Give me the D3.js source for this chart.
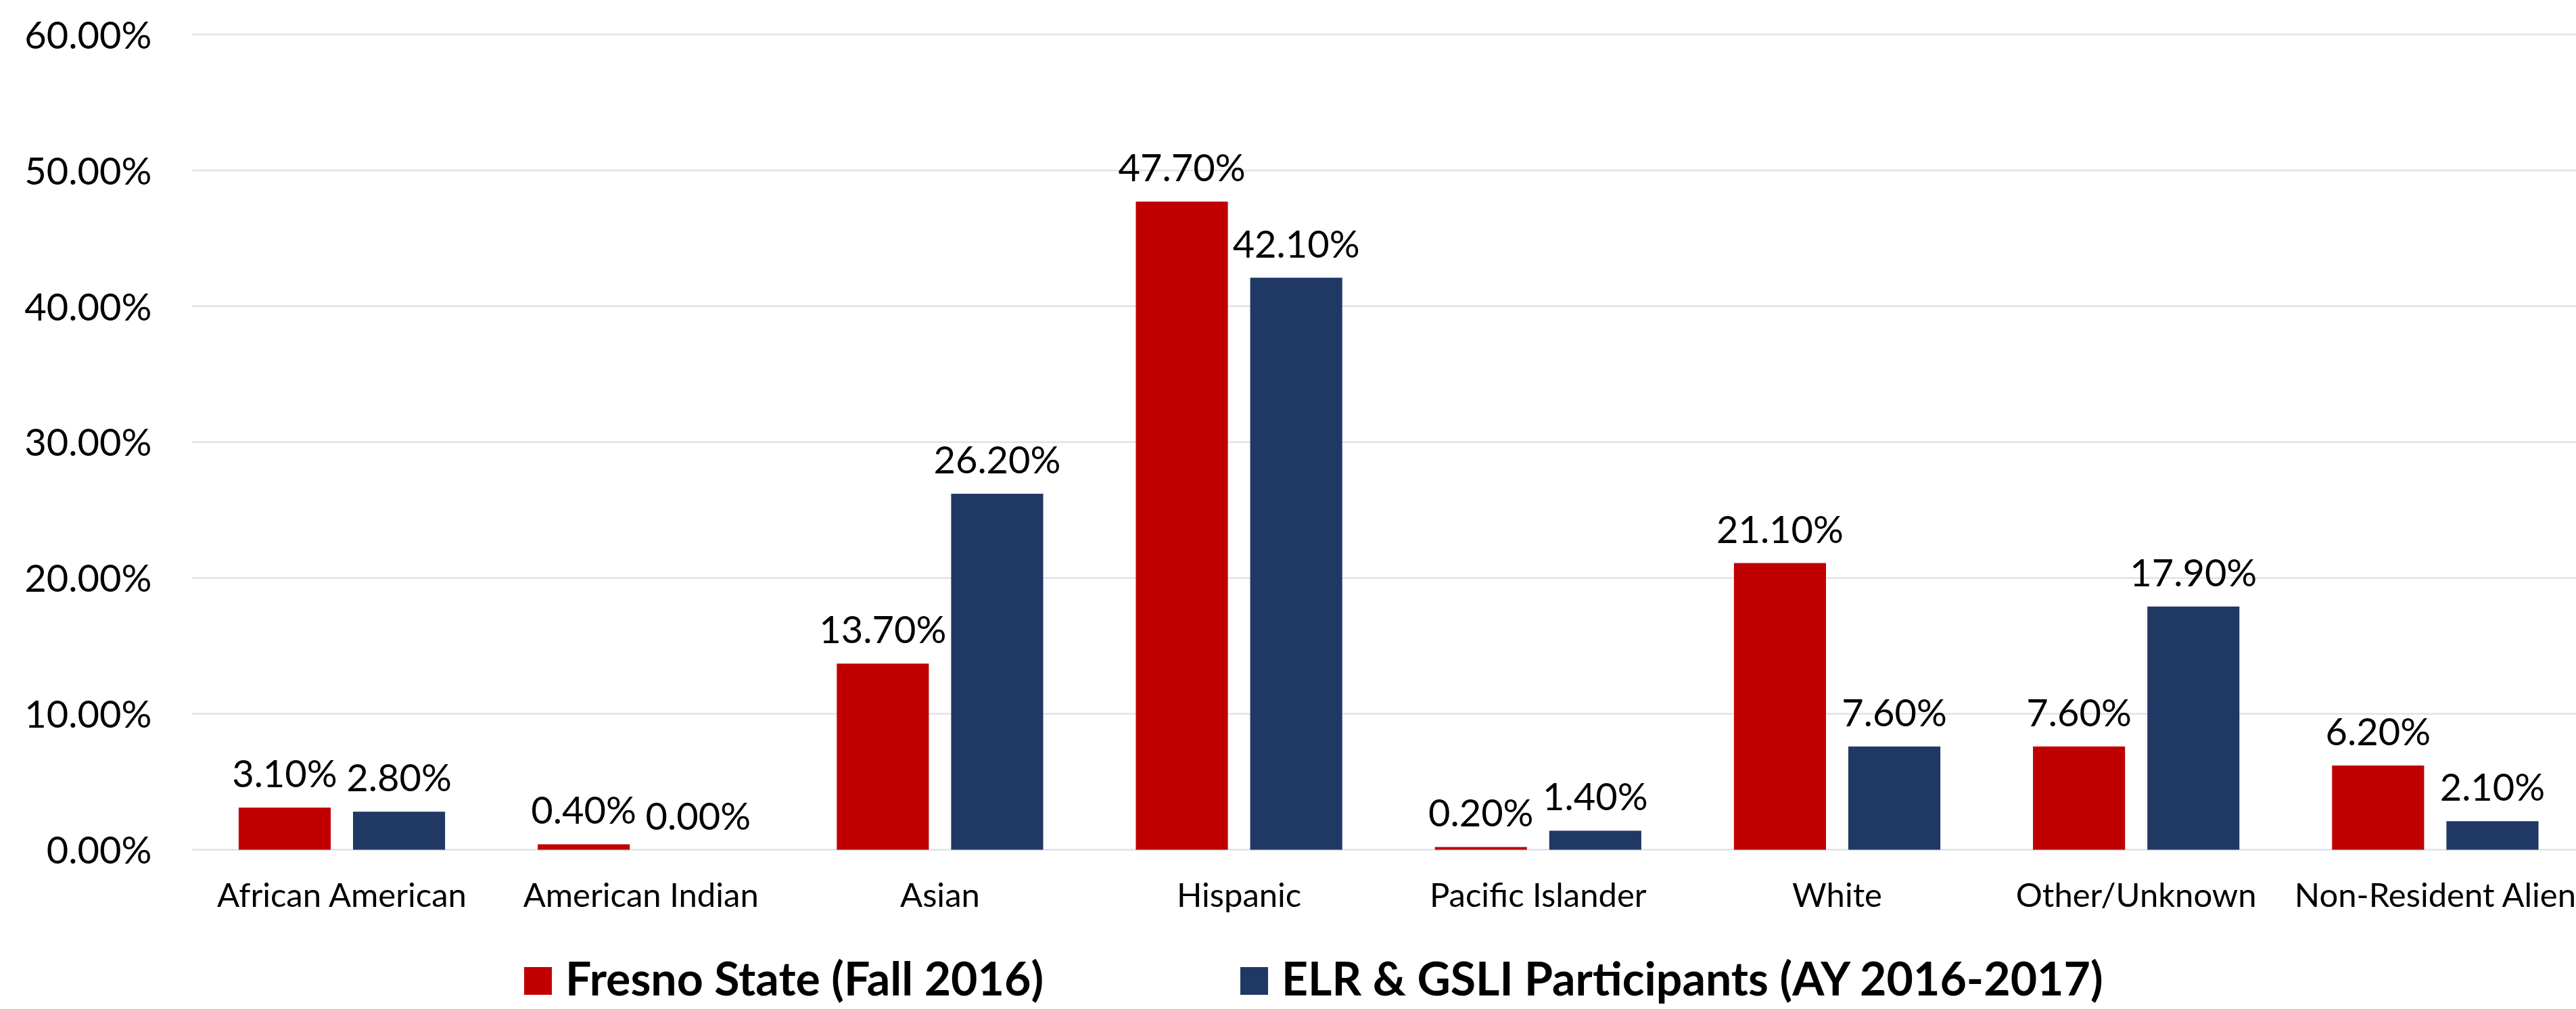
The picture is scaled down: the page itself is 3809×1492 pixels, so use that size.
<!DOCTYPE html>
<html>
<head>
<meta charset="utf-8">
<script src="https://cdn.jsdelivr.net/npm/d3@7"></script>
<style>
  body { margin: 0; background: #fff; }
  svg { display: block; }
</style>
</head>
<body>
<svg id="chart"></svg>
<script>
const categories = ['African American', 'American Indian', 'Asian', 'Hispanic', 'Pacific Islander', 'White', 'Other/Unknown', 'Non-Resident Alien']
const seriesNames = ['Fresno State (Fall 2016)', 'ELR & GSLI Participants (AY 2016-2017)']
const fresnoValues = [3.1, 0.4, 13.7, 47.7, 0.2, 21.1, 7.6, 6.2]
const elrValues = [2.8, 0.0, 26.2, 42.1, 1.4, 7.6, 17.9, 2.1]
const yTicks = [0, 10, 20, 30, 40, 50, 60]
const colors = ['#c00000', '#203864']

const width = 3809
const height = 1492
const plotLeft = 284.4
const plotRight = 3822
const plotTop = 51
const plotBottom = 1256.5
const font = 'Lato, "Open Sans", sans-serif'

const svg = d3.select('#chart').attr('width', width).attr('height', height)

const x0 = d3.scaleBand().domain(categories).range([plotLeft, plotRight]).padding(0)
const x1 = d3.scaleBand().domain([0, 1]).range([0, x0.bandwidth()]).paddingInner(0.195).paddingOuter(0.405)
const y = d3.scaleLinear().domain([0, 60]).range([plotBottom, plotTop])

// gridlines
svg.append('g')
  .selectAll('line')
  .data(yTicks)
  .join('line')
  .attr('x1', plotLeft)
  .attr('x2', plotRight)
  .attr('y1', (d) => y(d))
  .attr('y2', (d) => y(d))
  .attr('stroke', '#dfe3e8')
  .attr('stroke-width', 2.5)

// y axis labels
const yAxis = svg.append('g')
  .attr('transform', `translate(${plotLeft},0)`)
  .call(d3.axisLeft(y).tickValues(yTicks).tickSize(0).tickPadding(60).tickFormat((d) => d.toFixed(2) + '%'))
yAxis.select('.domain').remove()
yAxis.selectAll('text')
  .attr('font-family', font)
  .attr('font-size', 56)
  .attr('fill', '#000')
  .attr('dy', '0.36em')

// x axis labels
const xAxis = svg.append('g')
  .attr('transform', `translate(0,${plotBottom})`)
  .call(d3.axisBottom(x0).tickSize(0))
xAxis.select('.domain').remove()
xAxis.selectAll('text')
  .attr('font-family', font)
  .attr('font-size', 49)
  .attr('fill', '#000')
  .attr('y', 84.5)
  .attr('dy', 0)

const rows = categories.map((c, i) => ({ category: c, values: [fresnoValues[i], elrValues[i]] }))

const groups = svg.append('g')
  .selectAll('g')
  .data(rows)
  .join('g')
  .attr('transform', (d) => `translate(${x0(d.category)},0)`)

groups.selectAll('rect')
  .data((d) => d.values)
  .join('rect')
  .attr('x', (_, i) => x1(i))
  .attr('width', x1.bandwidth())
  .attr('y', (d) => y(d))
  .attr('height', (d) => y(0) - y(d))
  .attr('fill', (_, i) => colors[i])

groups.selectAll('text')
  .data((d) => d.values)
  .join('text')
  .attr('x', (_, i) => x1(i) + x1.bandwidth() / 2)
  .attr('y', (d) => y(d) - 30)
  .attr('text-anchor', 'middle')
  .attr('font-family', font)
  .attr('font-size', 56)
  .attr('fill', '#000')
  .text((d) => d.toFixed(2) + '%')

// legend
const legendX = [775, 1834]
const legend = svg.append('g')
  .selectAll('g')
  .data(seriesNames)
  .join('g')
  .attr('transform', (_, i) => `translate(${legendX[i]},1430)`)

legend.append('rect')
  .attr('width', 41)
  .attr('height', 41)
  .attr('fill', (_, i) => colors[i])

legend.append('text')
  .attr('x', 61)
  .attr('y', 42)
  .attr('font-family', font)
  .attr('font-weight', 'bold')
  .attr('font-size', 68)
  .attr('fill', '#000')
  .text((d) => d)
</script>
</body>
</html>
